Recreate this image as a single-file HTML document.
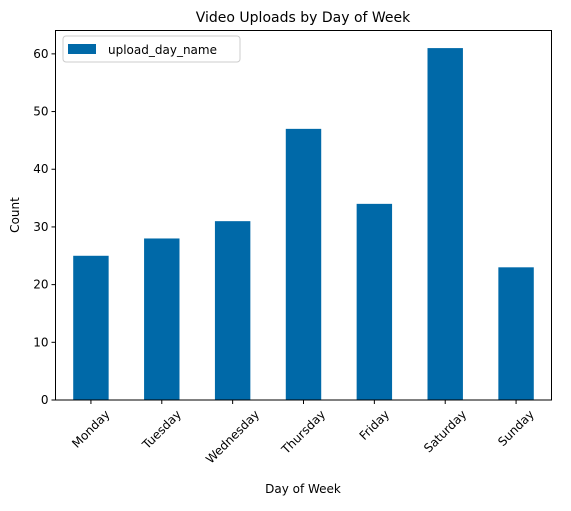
<!DOCTYPE html>
<html><head><meta charset="utf-8"><style>
body{margin:0;background:#fff;}
svg text{font-family:"DejaVu Sans","Liberation Sans",sans-serif;fill:#000;}
</style></head><body>
<svg id="chart" width="571" height="506" xmlns="http://www.w3.org/2000/svg">
<text x="303" y="22" font-size="14" text-anchor="middle">Video Uploads by Day of Week</text>
<g id="bars"></g>
<g id="yticks"></g>
<g id="xticks"></g>
<rect x="55.5" y="30.5" width="496" height="369.5" fill="none" stroke="#000" stroke-width="1"/>
<text transform="translate(19,215) rotate(-90)" font-size="12" text-anchor="middle">Count</text>
<text x="303" y="493" font-size="12" text-anchor="middle">Day of Week</text>
<g>
<rect x="63" y="36" width="177" height="26" rx="3" fill="#fff" stroke="#ccc"/>
<rect x="68" y="44" width="28" height="10" fill="#0069a8"/>
<text x="108" y="54" font-size="12">upload_day_name</text>
</g>
</svg>
<script>
const categories=["Monday","Tuesday","Wednesday","Thursday","Friday","Saturday","Sunday"];
const counts=[25,28,31,47,34,61,23];
const yTicks=[0,10,20,30,40,50,60];
const L=55.5,R=551.5,T=30.5,B=400;
const ymax=Math.max(...counts)*1.05;
const y=v=>B-v/ymax*(B-T);
const step=(R-L)/categories.length;
const xc=i=>L+step*(i+0.5);
const ns="http://www.w3.org/2000/svg";
const bars=document.getElementById('bars'),yt=document.getElementById('yticks'),xt=document.getElementById('xticks');
categories.forEach((c,i)=>{
 const r=document.createElementNS(ns,'rect');
 
 
 const w=step*0.5;
 r.setAttribute('x',xc(i)-w/2);r.setAttribute('width',w);
 r.setAttribute('y',y(counts[i]));r.setAttribute('height',B-y(counts[i]));
 r.setAttribute('fill','#0069a8');bars.appendChild(r);
 const tk=document.createElementNS(ns,'line');
 
 
 tk.setAttribute('x1',xc(i));tk.setAttribute('x2',xc(i));tk.setAttribute('y1',B);tk.setAttribute('y2',B+4);tk.setAttribute('stroke','#000');xt.appendChild(tk);
 const t=document.createElementNS(ns,'text');
 
 
 t.setAttribute('font-size','12');t.setAttribute('text-anchor','middle');
 t.textContent=c;xt.appendChild(t);
 const tw=t.getComputedTextLength(),th=12;
 const cy=B+8+(tw+th)*0.7071/2;
 t.setAttribute('transform',`translate(${xc(i)},${cy}) rotate(-45) translate(0,4)`);
});
yTicks.forEach(v=>{
 const tk=document.createElementNS(ns,'line');
 
 
 tk.setAttribute('x1',L-4);tk.setAttribute('x2',L);tk.setAttribute('y1',y(v));tk.setAttribute('y2',y(v));tk.setAttribute('stroke','#000');yt.appendChild(tk);
 const t=document.createElementNS(ns,'text');
 
 
 t.setAttribute('font-size','12');t.setAttribute('text-anchor','end');
 t.setAttribute('x',L-7);t.setAttribute('y',y(v)+4);t.textContent=v;yt.appendChild(t);
});
</script>
</body></html>
